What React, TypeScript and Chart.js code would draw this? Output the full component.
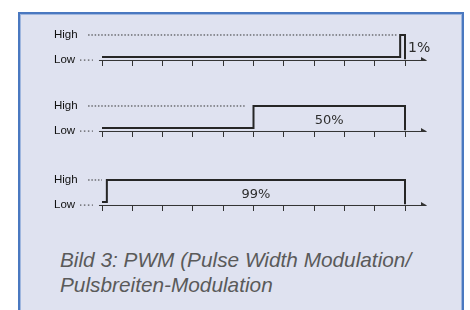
import { useEffect, useRef } from "react";
import { Chart, registerables } from "chart.js";

Chart.register(...registerables);

// ---- data ----
const tickValues = [0, 1, 2, 3, 4, 5, 6, 7, 8, 9, 10];
const yTickLabels = ["Low", "High"];
const dutyLabels = ["1%", "50%", "99%"];

const signal1X = [0, 9.84, 9.84, 10, 10];
const signal1Y = [0, 0, 1, 1, -0.1];
const signal2X = [0, 5, 5, 10, 10];
const signal2Y = [0, 0, 1, 1, -0.1];
const signal3X = [0, 0.16, 0.16, 10, 10];
const signal3Y = [0, 0, 1, 1, -0.1];

const highGuideStart = -0.46;
const highGuideEnd = [9.77, 4.72, 0.0];
const lowGuideX = [-0.73, -0.3];
const lowGuideLevel = -0.14;
const axisLevel = -0.159;
const axisX = [-0.1, 10.594];

const captionLines = ["Bild 3: PWM (Pulse Width Modulation/", "Pulsbreiten-Modulation"];

type Props = {
  xs: number[];
  ys: number[];
  guideEnd: number;
  label: string;
  top: number;
};

function PwmChart({ xs, ys, guideEnd, label, top }: Props) {
  const ref = useRef<HTMLCanvasElement>(null);
  useEffect(() => {
    const labelPlugin = {
      id: "dutyLabel",
      afterDatasetsDraw(chart: any) {
        const ctx = chart.ctx;
        const sx = chart.scales.x;
        const sy = chart.scales.y;
        const rise = xs[1];
        const fall = xs[3];
        ctx.save();
        ctx.fillStyle = "#2e2e2e";
        ctx.textBaseline = "middle";
        const py = sy.getPixelForValue(0.35);
        if (fall - rise < 1) {
          ctx.font = '14px "DejaVu Sans"';
          ctx.textAlign = "left";
          ctx.fillText(label, sx.getPixelForValue(fall) + 3, py - 1);
        } else {
          ctx.font = '13px "DejaVu Sans"';
          ctx.textAlign = "center";
          ctx.fillText(label, sx.getPixelForValue((rise + fall) / 2), py);
        }
        ctx.restore();
      },
    };
    const chart = new Chart(ref.current!, {
      type: "line",
      data: {
        datasets: [
          {
            data: xs.map((x, i) => ({ x, y: ys[i] })),
            borderColor: "#262626",
            borderWidth: 2,
            pointRadius: 0,
            tension: 0,
            borderJoinStyle: "miter",
            borderCapStyle: "butt",
          },
          {
            data: [
              { x: highGuideStart, y: 1 },
              { x: guideEnd, y: 1 },
            ],
            borderColor: "#333",
            borderWidth: 1,
            borderDash: [1.5, 1.8],
            pointRadius: 0,
          },
          {
            data: lowGuideX.map((x) => ({ x, y: lowGuideLevel })),
            borderColor: "#333",
            borderWidth: 1,
            borderDash: [1.5, 2.5],
            pointRadius: 0,
          },
          {
            data: axisX.map((x) => ({ x, y: axisLevel })),
            borderColor: "#333",
            borderWidth: 1,
            pointRadius: [0, 4],
            pointStyle: "triangle",
            rotation: 90,
            pointBackgroundColor: "#333",
            pointBorderColor: "#333",
            pointBorderWidth: 0,
          },
        ] as any,
      },
      options: {
        responsive: false,
        animation: false,
        events: [],
        layout: { padding: { left: 54, right: 38, top: 8, bottom: 4 } },
        plugins: { legend: { display: false }, tooltip: { enabled: false } },
        scales: {
          x: {
            type: "linear",
            min: -0.7261,
            max: 10.891,
            afterBuildTicks: (a: any) => {
              a.ticks = tickValues.map((v) => ({ value: v }));
            },
            afterFit: (s: any) => {
              s.height = 6;
            },
            ticks: { display: false },
            grid: {
              drawOnChartArea: false,
              drawTicks: true,
              tickLength: 5,
              color: "#333",
              lineWidth: 1,
            },
            border: { display: false },
          },
          y: {
            type: "linear",
            min: -0.1818,
            max: 1.0909,
            afterBuildTicks: (a: any) => {
              a.ticks = [{ value: lowGuideLevel }, { value: 1 }];
            },
            afterFit: (s: any) => {
              s.width = 26;
            },
            ticks: {
              callback: (_v: any, i: number) => yTickLabels[i],
              font: { family: "Liberation Sans", size: 11.5 },
              color: "#111",
              crossAlign: "far",
              padding: 0,
            },
            grid: { display: false },
            border: { display: false },
          },
        },
      } as any,
      plugins: [labelPlugin],
    });
    return () => chart.destroy();
  }, []);
  return (
    <canvas
      ref={ref}
      width={470}
      height={46}
      style={{ position: "absolute", left: 0, top, display: "block" }}
    />
  );
}

export default function App() {
  return (
    <div
      style={{
        position: "fixed",
        left: 0,
        top: 0,
        width: 470,
        height: 310,
        overflow: "hidden",
        background: "#ffffff",
      }}
    >
      <div
        style={{
          position: "absolute",
          left: 18,
          top: 12,
          width: 446,
          height: 320,
          boxSizing: "border-box",
          background: "#dfe2f0",
          borderLeft: "2px solid #4a78c0",
          borderTop: "2px solid #4a78c0",
          borderRight: "2px solid #4a78c0",
          boxShadow: "inset 1px 1px 0 #9fb6de, inset -1px 0 0 #9fb6de",
        }}
      />
      <PwmChart xs={signal1X} ys={signal1Y} guideEnd={highGuideEnd[0]} label={dutyLabels[0]} top={25} />
      <PwmChart xs={signal2X} ys={signal2Y} guideEnd={highGuideEnd[1]} label={dutyLabels[1]} top={96} />
      <PwmChart xs={signal3X} ys={signal3Y} guideEnd={highGuideEnd[2]} label={dutyLabels[2]} top={170} />
      <div
        style={{
          position: "absolute",
          left: 60,
          top: 247,
          font: 'italic 20.8px "Liberation Sans"',
          lineHeight: "25px",
          color: "#5a5a5a",
          whiteSpace: "nowrap",
        }}
      >
        {captionLines[0]}
        <br />
        {captionLines[1]}
      </div>
    </div>
  );
}
